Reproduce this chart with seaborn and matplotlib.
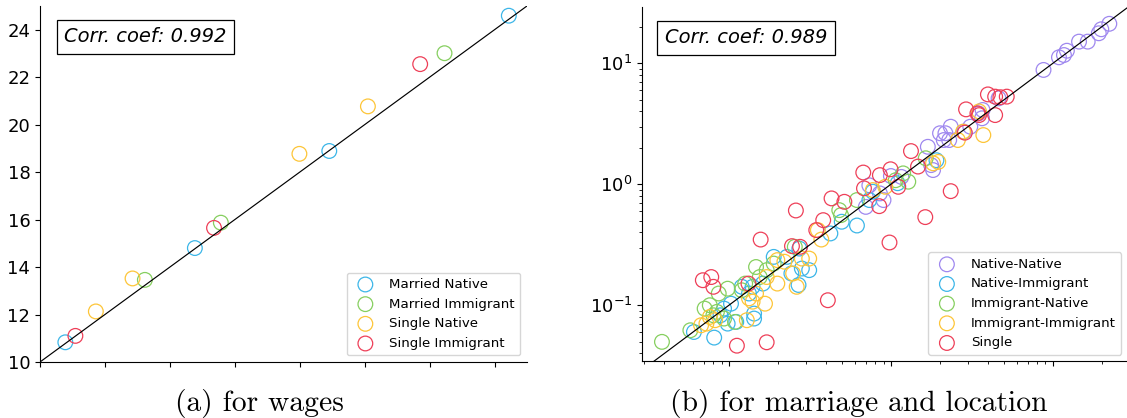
import matplotlib
matplotlib.use("Agg")
import matplotlib.pyplot as plt
import pandas as pd
import seaborn as sns

# ---------------- (a) wages: model vs. data ----------------
wage_groups = ["Married Native", "Married Immigrant", "Single Native", "Single Immigrant"]
married_native_x = [10.78, 14.77, 18.91, 24.44]
married_native_y = [10.83, 14.80, 18.89, 24.59]
married_immigrant_x = [13.23, 15.57, 22.46]
married_immigrant_y = [13.46, 15.87, 23.01]
single_native_x = [11.72, 12.85, 17.99, 20.10]
single_native_y = [12.13, 13.52, 18.77, 20.77]
single_immigrant_x = [11.09, 15.36, 21.71]
single_immigrant_y = [11.10, 15.65, 22.55]
wage_corr = 0.992

# ---------------- (b) marriage and location shares ----------------
share_groups = ["Native-Native", "Native-Immigrant", "Immigrant-Native",
                "Immigrant-Immigrant", "Single"]
nn_x = [22.3, 19.9, 19.2, 16.4, 14.5, 12.2, 11.7, 10.9, 8.75, 3.68, 3.47, 3.65, 3.09,
        2.82, 2.34, 2.17, 2.01, 2.12, 2.29, 1.69, 1.82, 1.77, 1.16, 1.00, 0.90, 0.855,
        0.70, 0.736, 4.62]
nn_y = [21.2, 19.1, 17.7, 15.1, 15.1, 12.7, 11.7, 11.2, 8.81, 4.11, 3.85, 3.51, 2.99,
        2.72, 2.99, 2.64, 2.64, 2.32, 2.32, 2.04, 1.31, 1.44, 1.15, 1.17, 0.74, 0.84,
        0.65, 0.98, 5.13]
ni_x = [1.91, 1.10, 0.773, 0.736, 0.423, 0.497, 0.617, 0.228, 0.272, 0.313, 0.282, 0.243,
        0.269, 0.162, 0.140, 0.133, 0.120, 0.103, 0.0933, 0.0887, 0.0982, 0.111, 0.143,
        0.143, 0.0608, 0.0811, 0.189]
ni_y = [1.58, 1.02, 0.867, 0.74, 0.392, 0.49, 0.456, 0.251, 0.294, 0.195, 0.201, 0.183,
        0.147, 0.151, 0.142, 0.125, 0.142, 0.103, 0.0938, 0.0826, 0.0705, 0.0728, 0.0776,
        0.0853, 0.0601, 0.0540, 0.251]
in_x = [1.64, 1.28, 1.19, 1.07, 0.617, 0.480, 0.492, 0.255, 0.189, 0.171, 0.147, 0.155,
        0.126, 0.120, 0.0982, 0.0865, 0.0762, 0.0708, 0.0843, 0.0802, 0.109, 0.0933,
        0.0578, 0.0386]
in_y = [1.64, 1.05, 1.23, 1.08, 0.74, 0.611, 0.556, 0.304, 0.221, 0.195, 0.207, 0.171,
        0.151, 0.133, 0.137, 0.125, 0.100, 0.0938, 0.0881, 0.0826, 0.0728, 0.0776,
        0.0621, 0.0498]
ii_x = [3.72, 2.59, 2.79, 1.96, 1.82, 0.773, 0.923, 0.354, 0.372, 0.313, 0.282, 0.199,
        0.220, 0.249, 0.171, 0.199, 0.147, 0.133, 0.167, 0.140, 0.129, 0.0822, 0.0726,
        0.0673, 0.0762, 3.5, 0.262]
ii_y = [2.55, 2.32, 2.72, 1.53, 1.49, 0.895, 0.953, 0.418, 0.349, 0.243, 0.243, 0.236,
        0.229, 0.183, 0.171, 0.151, 0.125, 0.114, 0.103, 0.107, 0.0752, 0.0752, 0.0705,
        0.0683, 0.0800, 4.0, 0.142]
single_x = [3.97, 4.40, 4.74, 5.19, 2.91, 3.42, 3.50, 4.40, 2.86, 1.33, 1.47, 2.34, 1.63,
            0.98, 0.675, 0.855, 0.995, 1.11, 0.847, 0.682, 0.430, 0.516, 0.259, 0.382,
            0.346, 0.245, 0.275, 0.157, 0.408, 0.132, 0.0802, 0.0690, 0.0778, 0.112, 0.171]
single_y = [5.53, 5.30, 5.24, 5.30, 4.16, 3.85, 3.73, 3.73, 2.67, 1.88, 1.40, 0.877, 0.535,
            0.330, 1.25, 1.19, 1.33, 0.953, 0.659, 0.925, 0.764, 0.716, 0.607, 0.505,
            0.418, 0.308, 0.304, 0.349, 0.110, 0.151, 0.142, 0.161, 0.171, 0.0463, 0.0494]
share_corr = 0.989

blue, green, yellow, red, purple = "#3cb6e8", "#86cf5f", "#fdc538", "#ee3f58", "#9f88ef"
wage_colors = [blue, green, yellow, red]
share_colors = [purple, blue, green, yellow, red]


def long_table(groups, xs, ys):
    frames = [pd.DataFrame({"x": x, "y": y, "group": g}) for g, x, y in zip(groups, xs, ys)]
    return pd.concat(frames, ignore_index=True)


wages = long_table(wage_groups,
                   [married_native_x, married_immigrant_x, single_native_x, single_immigrant_x],
                   [married_native_y, married_immigrant_y, single_native_y, single_immigrant_y])
shares = long_table(share_groups,
                    [nn_x, ni_x, in_x, ii_x, single_x],
                    [nn_y, ni_y, in_y, ii_y, single_y])

fig = plt.figure(figsize=(11.27, 4.18), dpi=100)
ax_w = fig.add_axes([0.0355, 0.134, 0.4321, 0.8517])
ax_m = fig.add_axes([0.5696, 0.1352, 0.4312, 0.848])
ax_m.set_xscale("log")
ax_m.set_yscale("log")

marker_kw = dict(s=112, facecolors="none", linewidth=0.9, marker="o")


def hollow_scatter(ax, table, groups, colors):
    for g, c in zip(groups, colors):
        sub = table[table["group"] == g]
        sns.scatterplot(data=sub, x="x", y="y", ax=ax, edgecolor=c, label=g, **marker_kw)


hollow_scatter(ax_w, wages, wage_groups, wage_colors)
hollow_scatter(ax_m, shares, share_groups, share_colors)

# 45-degree reference lines
ax_w.axline((10, 10), (25, 25), color="black", linewidth=0.85, zorder=1)
ax_m.axline((1, 1), (10, 10), color="black", linewidth=0.85, zorder=1)

ax_w.set_xlim(10, 25)
ax_w.set_ylim(10, 25)
ax_w.set_xticks(range(10, 25, 2))
ax_w.set_yticks(range(10, 25, 2))
ax_m.set_xlim(10 ** -1.537, 10 ** 1.463)
ax_m.set_ylim(10 ** -1.465, 10 ** 1.465)

for ax, corr, tx in [(ax_w, wage_corr, 0.050), (ax_m, share_corr, 0.047)]:
    sns.despine(ax=ax)
    ax.set_xlabel("")
    ax.set_ylabel("")
    ax.tick_params(axis="x", labelbottom=False)
    ax.tick_params(axis="y", labelsize=13)
    ax.legend(loc="lower right", fontsize=9.6)
    ax.text(tx, 0.913, f"Corr. coef: {corr:.3f}",
            transform=ax.transAxes, fontsize=14, style="italic", ha="left", va="center",
            bbox=dict(boxstyle="square,pad=0.38", facecolor="white", edgecolor="black",
                      linewidth=0.9))

fig.text(259.5 / 1127, 7 / 418, "(a) for wages", family="cmr10", fontsize=21.3,
         ha="center", va="baseline")
fig.text(858.5 / 1127, 7 / 418, "(b) for marriage and location", family="cmr10",
         fontsize=21.3, ha="center", va="baseline")

fig.savefig("out.png", dpi=100)
